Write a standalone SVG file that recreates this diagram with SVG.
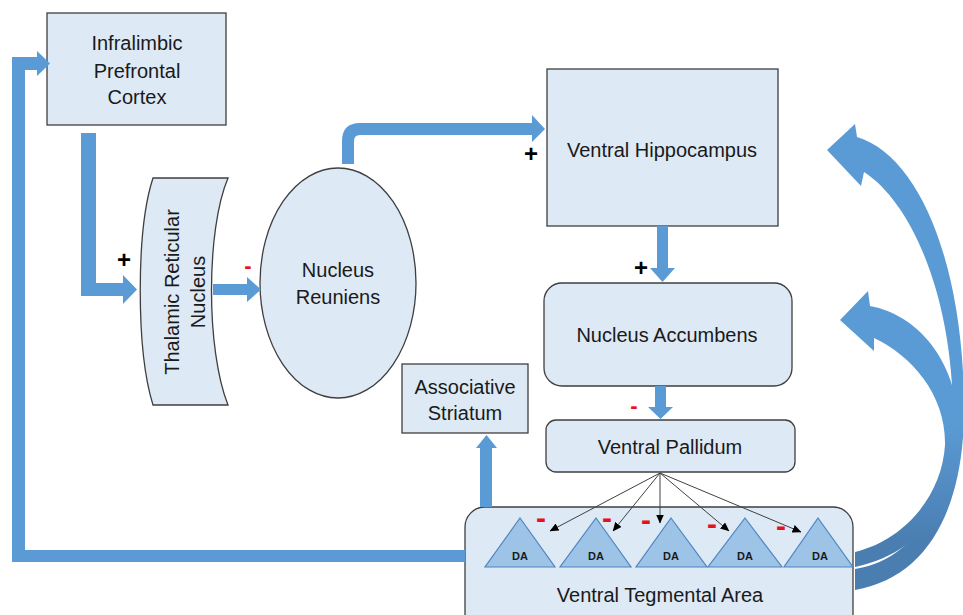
<svg xmlns="http://www.w3.org/2000/svg" width="963" height="615" viewBox="0 0 963 615">
<defs>
<style>
.node{fill:#dde9f5;stroke:#3f3f3f;stroke-width:1.3}
.lbl{font-family:"Liberation Sans",Arial,sans-serif;font-size:20px;fill:#1a1a1a;text-anchor:middle}
.da{font-family:"Liberation Sans",Arial,sans-serif;font-size:11px;font-weight:bold;fill:#1a1a1a;text-anchor:middle}
.tri{fill:#9dc3e6;stroke:#4f86c0;stroke-width:1.2}
.blue{fill:#5b9bd5}
.plus{font-family:"Liberation Sans",Arial,sans-serif;font-size:24px;font-weight:bold;fill:#000;text-anchor:middle}
.minus{font-family:"Liberation Sans",Arial,sans-serif;font-weight:bold;fill:#e8101a;text-anchor:middle}
.thin{stroke:#404040;stroke-width:1;fill:none;marker-end:url(#ah)}
</style>
<marker id="ah" markerWidth="9" markerHeight="8" refX="8.5" refY="4" orient="auto" markerUnits="userSpaceOnUse">
<path d="M0,0 L9,4 L0,8 Z" fill="#000"/>
</marker>
<linearGradient id="g" gradientUnits="userSpaceOnUse" x1="0" y1="420" x2="0" y2="545">
<stop offset="0" stop-color="#5b9bd5"/>
<stop offset="1" stop-color="#4a7db0"/>
</linearGradient>
</defs>
<rect width="963" height="615" fill="#fff"/>

<g id="ipc">
<rect class="node" x="47" y="13" width="179" height="112"/>
<text class="lbl" x="137" y="50">Infralimbic</text>
<text class="lbl" x="137" y="78">Prefrontal</text>
<text class="lbl" x="137" y="104">Cortex</text>
</g>

<g id="trn">
<path class="node" d="M153 178 L228 178 C206 230 206 350 228 405 L153 405 C136 350 136 230 153 178 Z"/>
<text class="lbl" transform="translate(179 292) rotate(-90)">Thalamic Reticular</text>
<text class="lbl" transform="translate(205 292) rotate(-90)">Nucleus</text>
</g>

<g id="nr">
<ellipse class="node" cx="338" cy="283" rx="78" ry="115"/>
<text class="lbl" x="338" y="277">Nucleus</text>
<text class="lbl" x="338" y="304">Reuniens</text>
</g>

<g id="vh">
<rect class="node" x="547" y="69" width="231" height="157"/>
<text class="lbl" x="662" y="157">Ventral Hippocampus</text>
</g>

<g id="nac">
<rect class="node" x="544" y="283" width="248" height="103" rx="18"/>
<text class="lbl" x="667" y="342">Nucleus Accumbens</text>
</g>

<g id="vp">
<rect class="node" x="546" y="420" width="249" height="52" rx="10"/>
<text class="lbl" x="670" y="454">Ventral Pallidum</text>
</g>

<g id="as">
<rect class="node" x="402" y="364" width="126" height="69"/>
<text class="lbl" x="465" y="394">Associative</text>
<text class="lbl" x="465" y="420">Striatum</text>
</g>

<g id="vta">
<rect class="node" x="465" y="507" width="388" height="130" rx="20"/>
<polygon class="tri" points="520,518 555,567 485,567"/>
<polygon class="tri" points="596,518 631,567 560,567"/>
<polygon class="tri" points="671,518 707,567 636,567"/>
<polygon class="tri" points="745,518 782,567 708,567"/>
<polygon class="tri" points="818,518 853,567 784,567"/>
<text class="da" x="520" y="560">DA</text>
<text class="da" x="596" y="560">DA</text>
<text class="da" x="671" y="560">DA</text>
<text class="da" x="745" y="560">DA</text>
<text class="da" x="820" y="560">DA</text>
<text class="lbl" x="660" y="602">Ventral Tegmental Area</text>
</g>

<g id="connectors">
<!-- VTA -> IPC loop -->
<path class="blue" d="M465 550 L25 550 L25 70 L37 70 L37 76 L50 63.5 L37 51 L37 57 L12 57 L12 562 L465 562 Z"/>
<!-- IPC -> TRN -->
<path class="blue" d="M81 133 L96 133 L96 283 L123 283 L123 275 L137 289.5 L123 304 L123 296 L81 296 Z"/>
<!-- TRN -> NR -->
<path class="blue" d="M213 284 L247 284 L247 277 L261 289.5 L247 302 L247 295 L213 295 Z"/>
<!-- NR -> VH -->
<path class="blue" d="M342 164 L342 141 Q342 123 360 123 L532 123 L532 115 L545 129 L532 142 L532 135 L360 135 Q354 135 354 141 L354 164 Z"/>
<!-- VH -> NAc -->
<path class="blue" d="M657 226 L668 226 L668 268 L675 268 L662.5 282 L650 268 L657 268 Z"/>
<!-- NAc -> VP -->
<path class="blue" d="M655 386 L666 386 L666 407 L673 407 L660.5 419 L648 407 L655 407 Z"/>
<!-- VTA -> AS -->
<path class="blue" d="M480 507 L480 448 L476 448 L486.5 435 L497 448 L492 448 L492 507 Z"/>
<!-- VP -> DA -->
<line class="thin" x1="660" y1="473" x2="550" y2="531"/>
<line class="thin" x1="660" y1="473" x2="613" y2="531"/>
<line class="thin" x1="660" y1="473" x2="660" y2="523"/>
<line class="thin" x1="660" y1="473" x2="729" y2="531"/>
<line class="thin" x1="660" y1="473" x2="801" y2="532"/>
<!-- VTA -> NAc curved -->
<path fill="url(#g)" d="M840 320 L868 291 L870 306 C918 315 956 360 959 425 C962 495 925 552 855 567 L855 552 C905 540 942 495 945 445 C946 395 912 356 874 338 L874 351 Z"/>
<!-- VTA -> VH curved -->
<path fill="url(#g)" d="M827 150 L855 124 L857 137 C918 155 962 260 964 400 C966 505 930 577 855 590 L855 569 C915 560 950 500 953 420 C954 305 915 205 864 172 L861 186 Z"/>
<!-- signs -->
<text class="plus" x="124" y="268">+</text>
<text class="plus" x="531" y="162">+</text>
<text class="plus" x="641" y="276">+</text>
<text class="minus" x="248" y="273" font-size="22">-</text>
<text class="minus" x="634" y="413" font-size="22">-</text>
<text class="minus" x="541" y="528" font-size="30">-</text>
<text class="minus" x="607" y="528" font-size="30">-</text>
<text class="minus" x="646" y="530" font-size="30">-</text>
<text class="minus" x="712" y="534" font-size="30">-</text>
<text class="minus" x="781" y="536" font-size="30">-</text>
</g>
</svg>
